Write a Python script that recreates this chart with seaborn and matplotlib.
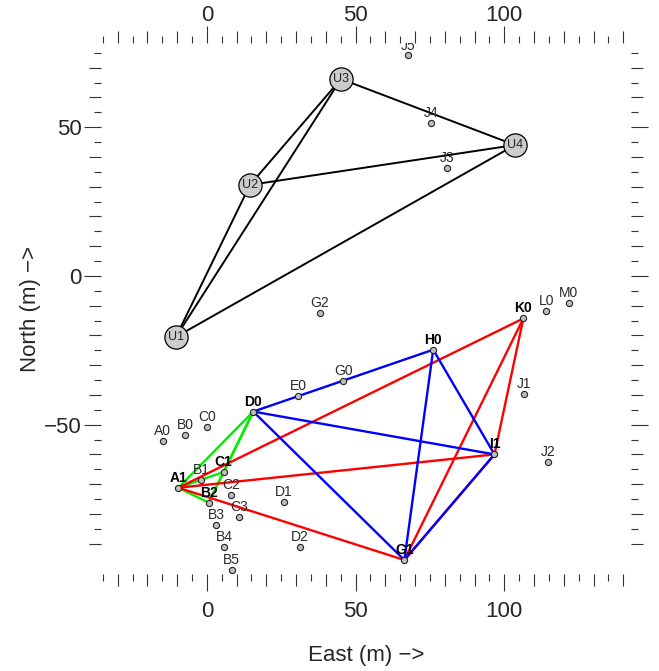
import matplotlib
matplotlib.use("Agg")
import matplotlib.pyplot as plt
import pandas as pd
import seaborn as sns

# ------- station positions (m) -------
names = ["A0", "B0", "C0", "D0", "E0", "G0", "H0", "G2", "K0", "L0", "M0",
         "J1", "I1", "J2", "A1", "B1", "C1", "B2", "C2", "D1", "B3", "C3",
         "B4", "D2", "B5", "G1", "J3", "J4", "J5"]
east = [-14.9, -7.2, 0.2, 15.6, 30.7, 45.8, 76.1, 38.0, 106.4, 114.1, 121.6,
        106.7, 96.7, 114.7, -9.6, -2.0, 5.6, 0.6, 8.1, 25.9, 3.1, 10.8,
        5.8, 31.2, 8.4, 66.4, 80.7, 75.4, 67.6]
north = [-55.6, -53.4, -50.8, -45.6, -40.3, -35.2, -24.8, -12.4, -14.3, -11.7, -9.1,
         -39.7, -60.0, -62.4, -71.2, -68.6, -65.9, -76.2, -73.6, -75.9, -83.7, -81.0,
         -91.2, -91.0, -98.9, -95.5, 36.3, 51.3, 74.1]
bold_names = ["A1", "B2", "C1", "D0", "G1", "H0", "I1", "K0"]

u_names = ["U1", "U2", "U3", "U4"]
u_east = [-10.4, 14.5, 45.1, 103.6]
u_north = [-20.5, 30.6, 66.2, 44.0]

# ------- links -------
black_edges = [("U1", "U2"), ("U1", "U3"), ("U1", "U4"),
               ("U2", "U3"), ("U2", "U4"), ("U3", "U4")]
green_edges = [("A1", "B2"), ("A1", "C1"), ("A1", "D0"),
               ("B2", "C1"), ("C1", "D0"), ("B2", "D0")]
red_edges = [("A1", "K0"), ("A1", "I1"), ("A1", "G1"),
             ("K0", "I1"), ("K0", "G1"), ("I1", "G1")]
blue_edges = [("D0", "H0"), ("D0", "I1"), ("D0", "G1"),
              ("H0", "I1"), ("H0", "G1"), ("I1", "G1")]

pos = {n: (x, y) for n, x, y in zip(names, east, north)}
pos.update({n: (x, y) for n, x, y in zip(u_names, u_east, u_north)})


def edge_frame(edges):
    rows = []
    for k, (a, b) in enumerate(edges):
        for n in (a, b):
            rows.append({"edge": k, "east": pos[n][0], "north": pos[n][1]})
    return pd.DataFrame(rows)


sns.set_style("white")
plt.rcParams["font.family"] = ["Liberation Sans", "DejaVu Sans"]

W, H = 659, 671
rect = [100.7 / W, (H - 574) / H, 530 / W, 530.7 / H]
fig = plt.figure(figsize=(W / 100, H / 100), dpi=100)
ax_small = fig.add_axes(rect, zorder=0)
ax = fig.add_axes(rect, zorder=1)
ax.patch.set_alpha(0)

xlim = (-35.7, 142.5)
ylim = (-100.2, 78.2)

# lines
for edges, col, lw in [(black_edges, "black", 1.4), (green_edges, "#00ee00", 1.7),
                       (red_edges, "red", 1.7), (blue_edges, "blue", 1.7)]:
    sns.lineplot(data=edge_frame(edges), x="east", y="north", units="edge",
                 estimator=None, sort=False, color=col, lw=lw, ax=ax, legend=False)

# stations
sns.scatterplot(x=east, y=north, s=20, color="#bdbdbd", edgecolor="#222222",
                linewidth=0.8, ax=ax, zorder=4, legend=False)
sns.scatterplot(x=u_east, y=u_north, s=280, color="#cccccc", edgecolor="black",
                linewidth=0.9, ax=ax, zorder=4, legend=False)

for n, x, y in zip(names, east, north):
    b = n in bold_names
    ax.annotate(n, (x, y), xytext=(0, 4.3), textcoords="offset points",
                ha="center", va="baseline", fontsize=10,
                fontweight="bold" if b else "normal",
                color="black" if b else "#2a2a2a", clip_on=True, zorder=5)
for n, x, y in zip(u_names, u_east, u_north):
    ax.text(x, y, n, ha="center", va="center", fontsize=9, color="#222222", zorder=6)

# ------- axes / ticks -------
x_major = [0, 50, 100]
x_mid = [v for v in range(-30, 141, 10) if v % 50]
x_small = list(range(-35, 141, 10))
y_major = [-50, 0, 50]
y_mid = [v for v in range(-90, 76, 10) if v % 50]
y_small = list(range(-85, 76, 10))

for a in (ax, ax_small):
    a.set_xlim(xlim)
    a.set_ylim(ylim)
    for s in a.spines.values():
        s.set_visible(False)

ax.set_xticks(x_major)
ax.set_xticks(x_mid, minor=True)
ax.set_yticks(y_major)
ax.set_yticks(y_mid, minor=True)
ax.tick_params(which="both", direction="out", width=0.8, color="#333333",
               bottom=True, top=True, left=True, right=True,
               labelbottom=True, labelleft=True, labeltop=False, labelright=False,
               labelsize=16)
ax.tick_params(which="major", length=12.2, top=False)
ax.tick_params(which="minor", length=8.6)
ax.tick_params(axis="x", which="major", pad=7)
ax.tick_params(axis="y", which="major", pad=1.5)

ax_small.set_xticks(x_small)
ax_small.set_yticks(y_small)
ax_small.tick_params(direction="out", length=5.3, width=0.8, color="#333333",
                     bottom=True, top=True, left=True, right=True,
                     labelbottom=False, labelleft=False)

sec = ax.secondary_xaxis("top")
sec.set_xticks(x_major)
sec.tick_params(length=12.2, width=0.8, color="#333333", pad=0.5, labelsize=16)
sec.spines["top"].set_visible(False)

ax.set_xlabel("East (m) \u2212>", fontsize=16, labelpad=17)
ax.set_ylabel("North (m) \u2212>", fontsize=16, labelpad=2)

fig.savefig("out.png", dpi=100, facecolor="white")
